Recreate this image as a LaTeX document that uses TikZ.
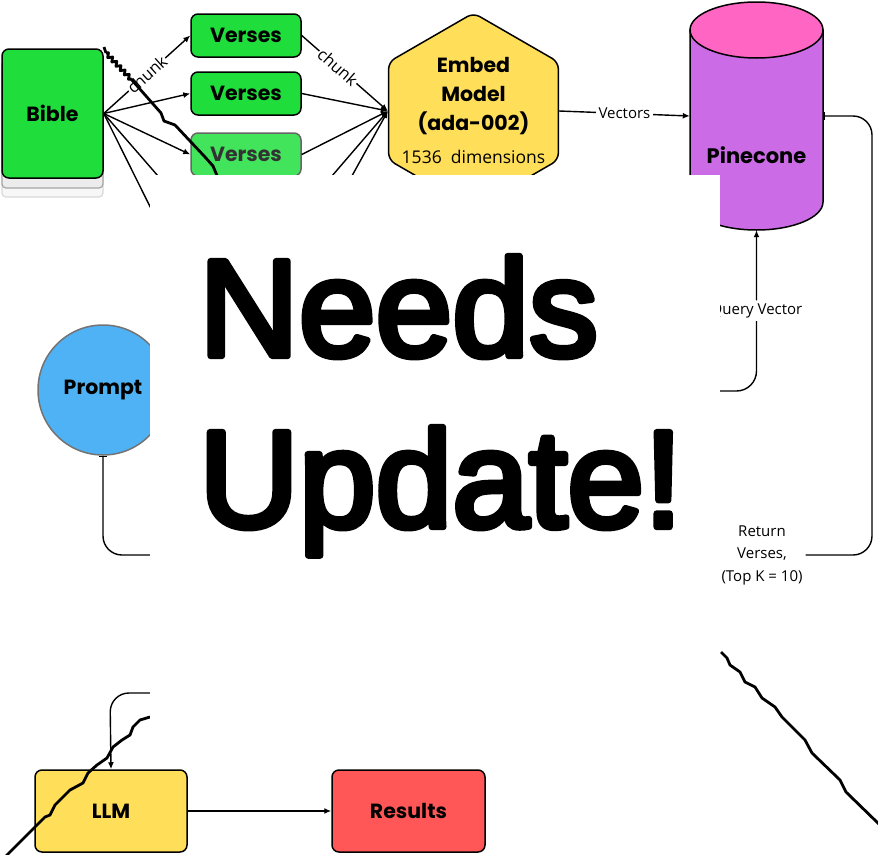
\documentclass[tikz,border=0pt]{standalone}
\usepackage{fontspec}
\setmainfont{Poppins}
\newfontfamily\notefont{Open Sans}
\newfontfamily\bannerfont{Liberation Sans}[FakeBold=4.5]
\usepackage{tikz}
\usetikzlibrary{arrows.meta,positioning,shapes.geometric,calc,decorations.pathmorphing}
\usepackage{xcolor}
\definecolor{versegreen}{RGB}{31,222,60}
\definecolor{fadegreen}{RGB}{66,228,92}
\definecolor{embedyellow}{RGB}{255,222,89}
\definecolor{pinepink}{RGB}{255,102,196}
\definecolor{pinepurple}{RGB}{203,108,230}
\definecolor{promptblue}{RGB}{79,178,245}
\definecolor{resultred}{RGB}{255,87,87}

\begin{document}
\begin{tikzpicture}[x=1pt, y=1pt,
    box/.style={draw, line width=1.5pt, rounded corners=7pt, font=\fontsize{20.5}{29}\selectfont\bfseries},
    versebox/.style={box, fill=versegreen, minimum width=110pt, minimum height=43pt},
    page/.style={draw, rounded corners=4pt, line width=1.2pt, minimum width=101pt},
    flow/.style={-{Latex[length=7pt,width=6pt]}, line width=1.4pt},
    tapflow/.style={{Bar[width=8pt]}-{Latex[length=7pt,width=6pt]}, line width=1.4pt, rounded corners=19pt},
    note/.style={fill=white, inner sep=3pt, font=\notefont\fontsize{15}{22.5}\selectfont, align=center},
    chunknote/.style={note, sloped, inner sep=1pt, font=\notefont\fontsize{16.5}{18}\selectfont},
    torn/.style={line width=2.8pt, line join=round},
    banner/.style={anchor=base west, inner sep=0pt, line join=round, font=\bannerfont\fontsize{138}{138}\selectfont}
]
\useasboundingbox (0,0) rectangle (878,-854);

% the book
\node[page, fill=gray!6, draw=gray!30, minimum height=127pt] (page2) at (52.5,-133.5) {};
\node[page, fill=gray!15, draw=gray!70, minimum height=128pt] (page1) at (52.5,-124) {};
\node[box, fill=versegreen, minimum width=101pt, minimum height=129pt] (bible) at (52.5,-113.5) {Bible};

\node[versebox] (v1) at (246,-35.5) {Verses};
\node[versebox] (v2) at (246,-93.5) {Verses};
\node[versebox, fill=fadegreen, draw=black!60, text=black!80] (v3) at (246,-154.5) {Verses};
\coordinate (v4in) at (191,-214);
\coordinate (v5in) at (191,-289);
\coordinate (v4out) at (301,-212);
\coordinate (v5out) at (301,-268);

\node[box, regular polygon, regular polygon sides=6, shape border rotate=30, minimum size=196pt,
      inner sep=0pt, fill=embedyellow] (embed) at (473.5,-111) {};
\node[font=\fontsize{20.5}{29}\selectfont\bfseries, align=center] (embedtext) at (473.5,-110)
      {Embed\\Model\\(ada-002)\\[4pt]{\notefont\mdseries\fontsize{17.5}{20}\selectfont 1536~~dimensions}};

% pinecone cylinder
\node[minimum width=133pt, minimum height=228pt, inner sep=0pt] (pine) at (756.5,-116) {};
\draw[line width=1.5pt, fill=pinepurple] (690,-30) -- (690,-202)
    arc[start angle=180, end angle=360, x radius=66.5, y radius=28] -- (823,-30) -- cycle;
\draw[line width=1.5pt, fill=pinepink] (756.5,-30) ellipse [x radius=66.5, y radius=28];
\node[font=\fontsize{21}{24}\selectfont\bfseries] (pinename) at (756.5,-155) {Pinecone};

\node[box, circle, fill=promptblue, draw=black!55, minimum size=130pt, inner sep=0pt] (prompt) at (103,-390) {Prompt};
\coordinate (pmid) at (300,-555);
\coordinate (qembed) at (600,-391);

\node[box, fill=embedyellow, minimum width=152pt, minimum height=82pt] (llm) at (111,-811) {LLM};
\node[box, fill=resultred, minimum width=153pt, minimum height=82pt] (results) at (408.5,-811) {Results};

\draw[flow] (bible.east) -- node[chunknote] {chunk} (v1.west);
\draw[flow] (bible.east) -- (v2.west);
\draw[flow] (bible.east) -- (v3.west);
\draw[flow] (bible.east) -- (v4in);
\draw[flow] (bible.east) -- (v5in);
\draw[flow] (v1.east) -- node[chunknote, pos=0.42] {chunk} (embed.west);
\draw[flow] (v2.east) -- (embed.west);
\draw[flow] (v3.east) -- (embed.west);
\draw[flow] (v4out) -- (embed.west);
\draw[flow] (v5out) -- (embed.west);
\draw[flow] (embed.east) -- node[note] {Vectors} (pine.west);
\draw[flow, rounded corners=20pt] (qembed) -| node[note, pos=0.75] {Query Vector} (pine.south);
\draw[tapflow] (pine.east) -- (872,-116) -- (872,-555)
    -- node[note] {Return\\Verses,\\(Top K = 10)} (652,-555) -- (652,-693) -- (110,-693) -- (llm.north);
\draw[tapflow] (prompt.south) |- (pmid);
\draw[flow] (llm.east) -- (results.west);

% torn edges and the banner
\draw[torn] (104,-47) -- (106,-53);
\draw[torn, decorate, decoration={zigzag, segment length=6pt, amplitude=2pt}] (106,-53) -- (131,-79);
\draw[torn] (131,-79) -- (161,-113) -- (164,-121) -- (175,-125) -- (205,-157) -- (213,-166) -- (218,-178);
\draw[torn] (150,-717) -- (140,-720) -- (133,-727) -- (130,-735) -- (122,-740) -- (113,-747)
    -- (107,-758) -- (97,-765) -- (88,-773) -- (83,-783) -- (70,-790) -- (55,-805)
    -- (50,-815) -- (45,-817) -- (0,-862);
\draw[torn] (721,-652) -- (727,-658) -- (730,-665) -- (740,-672) -- (745,-682) -- (755,-687)
    -- (762,-698) -- (775,-707) -- (782,-717) -- (805,-740) -- (812,-753) -- (840,-780)
    -- (846,-792) -- (882,-827);
\fill[white] (150,-175) rectangle (720,-725);
\node[banner] (needs) at (199,-356) {Needs};
\node[banner] (update) at (199,-527) {Update!};
\end{tikzpicture}
\end{document}
